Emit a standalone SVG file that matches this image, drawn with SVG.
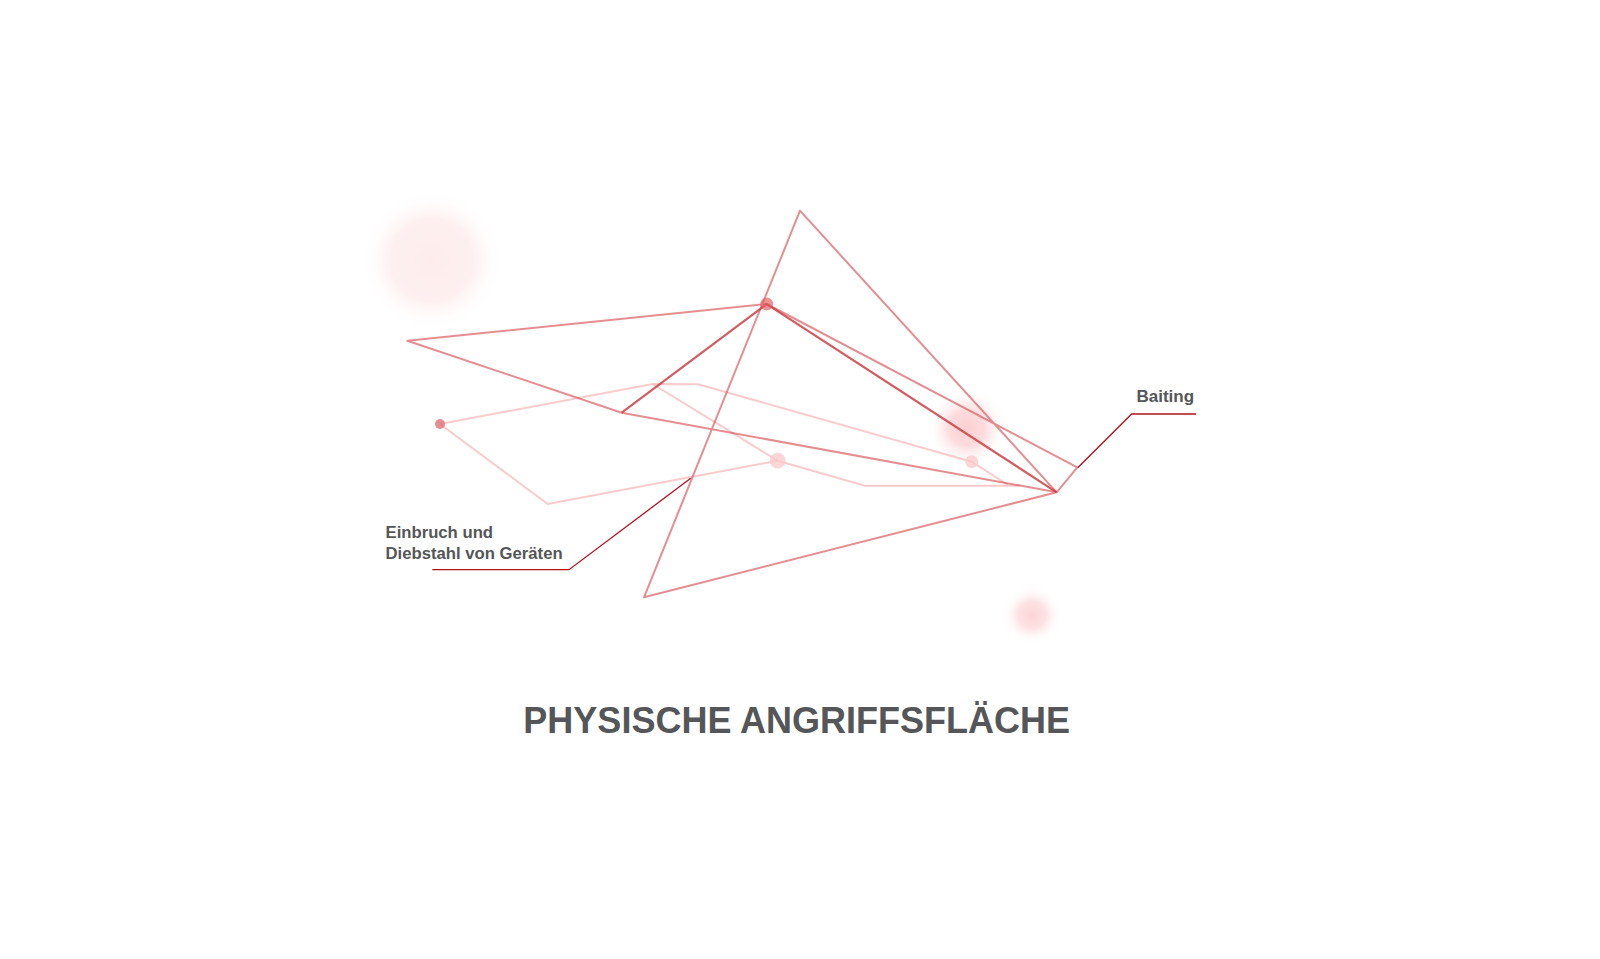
<svg xmlns="http://www.w3.org/2000/svg" width="1600" height="959" viewBox="0 0 1600 959">
<style>
.main{fill:none;stroke:#d4484d;stroke-opacity:0.62;stroke-width:2;stroke-linejoin:round}
.dark{fill:none;stroke:#c9353b;stroke-opacity:0.8;stroke-width:2.2}
.pale{fill:none;stroke:#f5b5b8;stroke-opacity:0.7;stroke-width:2;stroke-linejoin:round}
.lead{fill:none;stroke:#b3121c;stroke-width:1.3}
.lbl{font-family:"Liberation Sans",Arial,sans-serif;font-weight:bold;fill:#555658}
</style>
<defs>
<radialGradient id="gBig">
<stop offset="0" stop-color="#feecec"/>
<stop offset="0.6" stop-color="#fef0f0"/>
<stop offset="1" stop-color="#ffffff" stop-opacity="0"/>
</radialGradient>
<radialGradient id="gMid">
<stop offset="0" stop-color="#fbd0d2"/>
<stop offset="0.45" stop-color="#fcdcdd"/>
<stop offset="1" stop-color="#ffffff" stop-opacity="0"/>
</radialGradient>
<radialGradient id="gSmall">
<stop offset="0" stop-color="#fcd6d8"/>
<stop offset="0.45" stop-color="#fde2e3"/>
<stop offset="1" stop-color="#ffffff" stop-opacity="0"/>
</radialGradient>
</defs>
<rect width="1600" height="959" fill="#ffffff"/>
<g id="blobs">
<circle cx="432" cy="260" r="70" fill="url(#gBig)"/>
<circle cx="967" cy="428" r="40" fill="url(#gMid)"/>
<circle cx="1032" cy="615" r="30" fill="url(#gSmall)"/>
</g>
<g id="connectors">
<polyline class="pale" points="440,424 652.7,384 698.3,384.3 971.7,461.7 1008,485"/>
<polyline class="pale" points="652.7,384 777.7,460.7 865,485.7 1020,485.7"/>
<polyline class="pale" points="440,424 547.7,504 777.7,460.7"/>
<polyline class="main" points="766.7,304 407.3,340.7 621.7,412.7 1056.7,492.3 644,597.3 800,210.7 1056.7,492.3 1077.3,467.3 766.7,304"/>
<polyline class="dark" points="621.7,412.7 766.7,304 1056.7,492.3"/>
</g>
<g id="node-hub"><circle cx="766.7" cy="304" r="6.5" fill="#e05a5e" fill-opacity="0.65"/></g>
<g id="node-left"><circle cx="440" cy="424" r="5" fill="#e07376" fill-opacity="0.8"/></g>
<g id="node-pale1"><circle cx="777.7" cy="460.7" r="8" fill="#fbc9cb" fill-opacity="0.75"/></g>
<g id="node-pale2"><circle cx="971.7" cy="461.7" r="6.5" fill="#fbc9cb" fill-opacity="0.75"/></g>
<g id="label-einbruch">
<polyline class="lead" points="690.7,478.3 569,569.7 432.3,569.7"/>
<text class="lbl" x="385.5" y="538" font-size="16.7">Einbruch und</text>
<text class="lbl" x="385.5" y="559" font-size="16.7">Diebstahl von Geräten</text>
</g>
<g id="label-baiting">
<polyline class="lead" points="1077.7,467.7 1131.7,414 1196,414"/>
<text class="lbl" x="1136.5" y="402.3" font-size="17">Baiting</text>
</g>
<g id="title">
<text class="lbl" x="796.7" y="733.3" font-size="36" text-anchor="middle">PHYSISCHE ANGRIFFSFLÄCHE</text>
</g>
</svg>
